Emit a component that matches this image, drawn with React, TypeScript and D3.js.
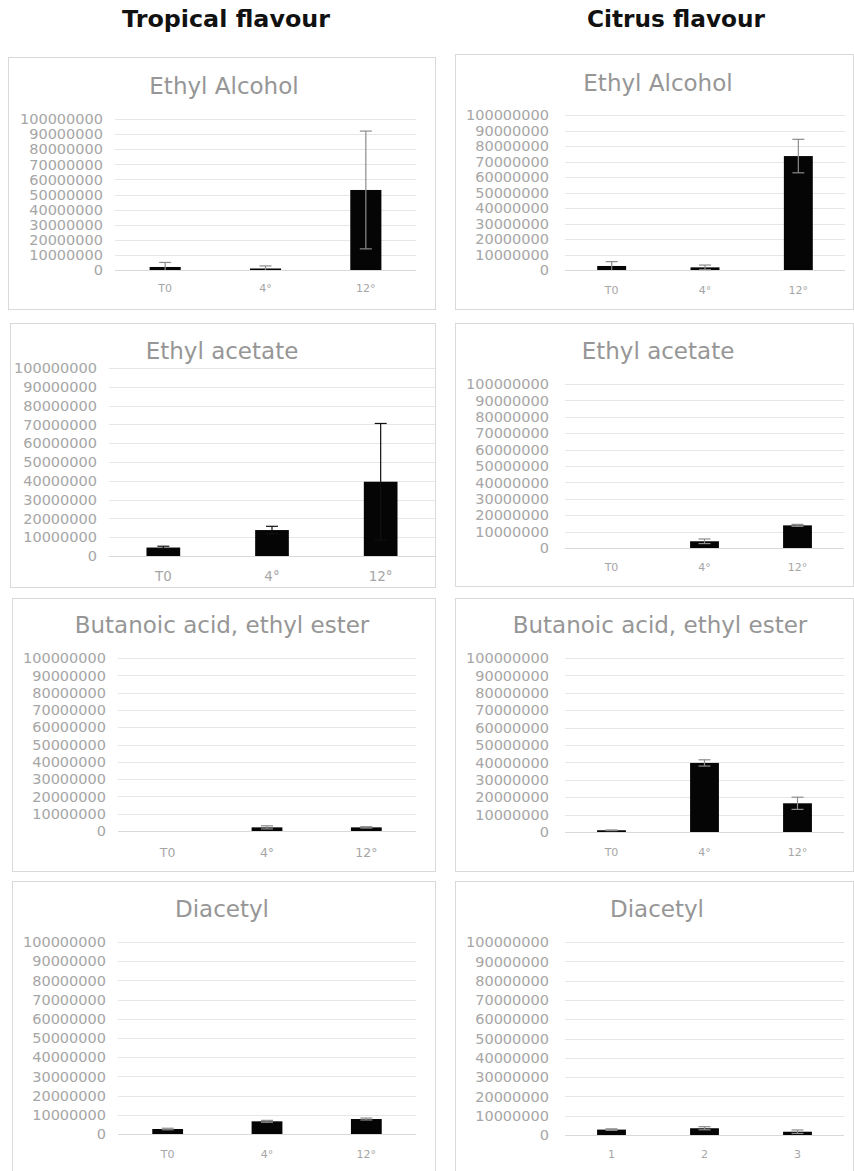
import React from "react";
import * as d3 from "d3";

// ---- categories & ticks ----
const categoriesTemp = ["T0", "4°", "12°"];
const categoriesNum = ["1", "2", "3"];
const yTickValues = [0, 10000000, 20000000, 30000000, 40000000, 50000000, 60000000, 70000000, 80000000, 90000000, 100000000];
const columnHeaders = ["Tropical flavour", "Citrus flavour"];

// ---- series values (mean, error) ----
const tropicalAlcohol = [2000000, 1000000, 53000000];
const tropicalAlcoholErr = [3000000, 1700000, 39000000];
const citrusAlcohol = [2600000, 1700000, 73500000];
const citrusAlcoholErr = [2800000, 1500000, 10800000];

const tropicalAcetate = [4500000, 13800000, 39500000];
const tropicalAcetateErr = [700000, 2000000, 31000000];
const citrusAcetate = [0, 4100000, 13800000];
const citrusAcetateErr = [0, 1400000, 600000];

const tropicalButanoic = [0, 2100000, 2100000];
const tropicalButanoicErr = [0, 900000, 400000];
const citrusButanoic = [1000000, 39700000, 16500000];
const citrusButanoicErr = [200000, 1800000, 3500000];

const tropicalDiacetyl = [2600000, 6600000, 7800000];
const tropicalDiacetylErr = [400000, 500000, 500000];
const citrusDiacetyl = [2800000, 3500000, 1700000];
const citrusDiacetylErr = [400000, 800000, 900000];

type Panel = {
  title: string;
  cats: string[];
  values: number[];
  errs: number[];
  box: [number, number, number, number];
  plot: [number, number, number, number];
  titleX: number;
  titleY: number;
  labelRight: number;
  xLabelY: number;
  xFont: number;
  errColor: string;
};

const panels: Panel[] = [
  { title: "Ethyl Alcohol", cats: categoriesTemp, values: tropicalAlcohol, errs: tropicalAlcoholErr,
    box: [8, 57, 435, 309], plot: [115, 416, 119, 270], titleX: 224, titleY: 94, labelRight: 103, xLabelY: 292, xFont: 11, errColor: "#8c8c8c" },
  { title: "Ethyl Alcohol", cats: categoriesTemp, values: citrusAlcohol, errs: citrusAlcoholErr,
    box: [455, 54, 853, 309], plot: [565, 845, 115, 270], titleX: 658, titleY: 91, labelRight: 549, xLabelY: 294, xFont: 11, errColor: "#8c8c8c" },
  { title: "Ethyl acetate", cats: categoriesTemp, values: tropicalAcetate, errs: tropicalAcetateErr,
    box: [10, 323, 435, 587], plot: [109, 435, 368, 556], titleX: 222, titleY: 359, labelRight: 97, xLabelY: 581, xFont: 13.5, errColor: "#111111" },
  { title: "Ethyl acetate", cats: categoriesTemp, values: citrusAcetate, errs: citrusAcetateErr,
    box: [455, 323, 853, 586], plot: [565, 844, 384, 548], titleX: 658, titleY: 359, labelRight: 549, xLabelY: 571, xFont: 11, errColor: "#8c8c8c" },
  { title: "Butanoic acid, ethyl ester", cats: categoriesTemp, values: tropicalButanoic, errs: tropicalButanoicErr,
    box: [12, 598, 435, 871], plot: [118, 416, 658, 831], titleX: 222, titleY: 633, labelRight: 106, xLabelY: 857, xFont: 12.5, errColor: "#8c8c8c" },
  { title: "Butanoic acid, ethyl ester", cats: categoriesTemp, values: citrusButanoic, errs: citrusButanoicErr,
    box: [455, 598, 853, 871], plot: [565, 844, 658, 832], titleX: 660, titleY: 633, labelRight: 549, xLabelY: 856, xFont: 11, errColor: "#8c8c8c" },
  { title: "Diacetyl", cats: categoriesTemp, values: tropicalDiacetyl, errs: tropicalDiacetylErr,
    box: [12, 881, 435, 1175], plot: [118, 416, 942, 1134], titleX: 222, titleY: 917, labelRight: 106, xLabelY: 1158, xFont: 11, errColor: "#8c8c8c" },
  { title: "Diacetyl", cats: categoriesNum, values: citrusDiacetyl, errs: citrusDiacetylErr,
    box: [455, 881, 853, 1175], plot: [565, 844, 942, 1135], titleX: 657, titleY: 917, labelRight: 549, xLabelY: 1158, xFont: 11, errColor: "#8c8c8c" },
];

const FONT = "'DejaVu Sans', Verdana, sans-serif";
const fmt = d3.format("d");

function ChartPanel({ p }: { p: Panel }) {
  const [bx0, by0, bx1, by1] = p.box;
  const [left, right, top, bottom] = p.plot;
  const y = d3.scaleLinear().domain([0, 100000000]).range([bottom, top]);
  const x = d3.scaleBand<string>().domain(p.cats).range([left, right]).paddingInner(0.69).paddingOuter(0.345);
  const bw = x.bandwidth();
  return (
    <g>
      <rect x={bx0 + 0.5} y={by0 + 0.5} width={bx1 - bx0} height={by1 - by0} fill="#ffffff" stroke="#d9d9d9" strokeWidth={1} />
      <text x={p.titleX} y={p.titleY} textAnchor="middle" fontFamily={FONT} fontSize={23} fill="#969696">{p.title}</text>
      {yTickValues.map((t) => (
        <g key={t}>
          <line x1={left} x2={right} y1={Math.round(y(t)) + 0.5} y2={Math.round(y(t)) + 0.5} stroke={t === 0 ? "#d9d9d9" : "#e6e6e6"} strokeWidth={1} />
          <text x={p.labelRight} y={y(t)} dy="0.36em" textAnchor="end" fontFamily={FONT} fontSize={14.5} fill="#a6a6a6">{fmt(t)}</text>
        </g>
      ))}
      {p.cats.map((c, i) => {
        const v = p.values[i];
        const e = p.errs[i];
        const cx = (x(c) as number) + bw / 2;
        const yTop = y(v);
        const yHi = y(Math.min(100000000, v + e));
        const yLo = y(Math.max(0, v - e));
        return (
          <g key={c}>
            {v > 0 && <rect x={cx - bw / 2} y={yTop} width={bw} height={y(0) - yTop} fill="#050505" />}
            {e > 0 && (
              <g stroke={p.errColor} strokeWidth={1.2}>
                <line x1={cx} x2={cx} y1={yHi} y2={yLo} />
                <line x1={cx - 6} x2={cx + 6} y1={yHi} y2={yHi} />
                {v - e > 0 && <line x1={cx - 6} x2={cx + 6} y1={yLo} y2={yLo} />}
              </g>
            )}
            <text x={cx} y={p.xLabelY} textAnchor="middle" fontFamily={FONT} fontSize={p.xFont} fill="#a6a6a6">{c}</text>
          </g>
        );
      })}
    </g>
  );
}

export default function App() {
  return (
    <svg width={854} height={1171} style={{ position: "absolute", left: 0, top: 0, background: "#ffffff" }}>
      <rect x={0} y={0} width={854} height={1171} fill="#ffffff" />
      <text x={226} y={27} textAnchor="middle" fontFamily="'DejaVu Sans', sans-serif" fontWeight="bold" fontSize={23.5} fill="#111111" textLength={208} lengthAdjust="spacingAndGlyphs">{columnHeaders[0]}</text>
      <text x={676} y={27} textAnchor="middle" fontFamily="'DejaVu Sans', sans-serif" fontWeight="bold" fontSize={23.5} fill="#111111" textLength={178} lengthAdjust="spacingAndGlyphs">{columnHeaders[1]}</text>
      {panels.map((p, i) => (
        <ChartPanel key={i} p={p} />
      ))}
    </svg>
  );
}
